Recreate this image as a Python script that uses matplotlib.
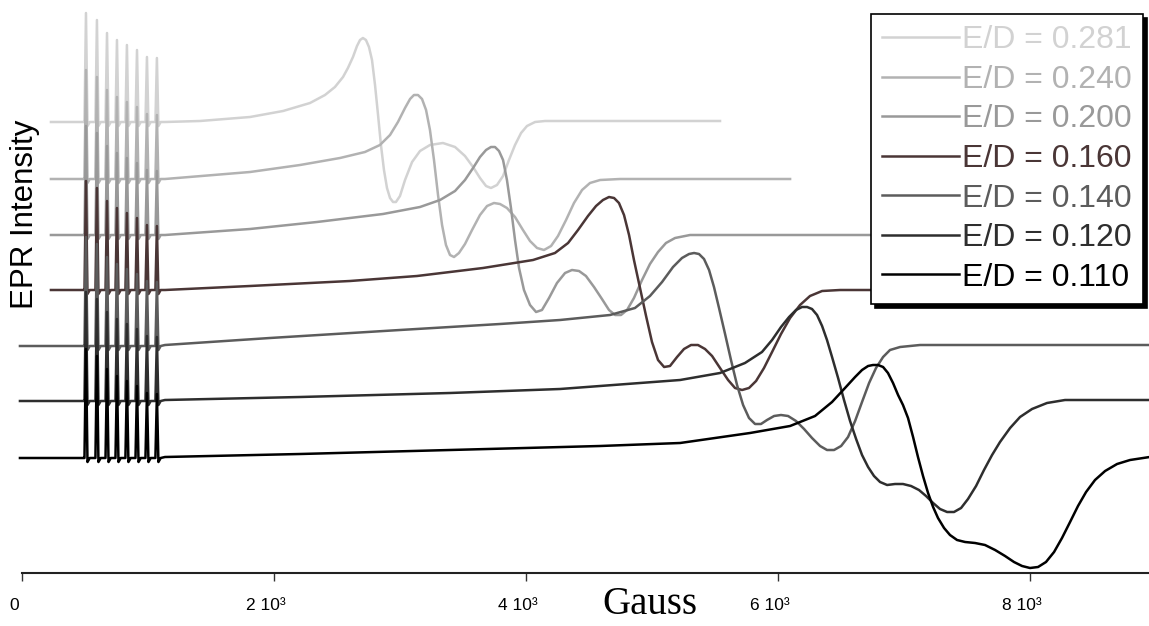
import matplotlib
matplotlib.use("Agg")
import matplotlib.pyplot as plt
import matplotlib.transforms as mtransforms

# ── data (field in Gauss, intensity in arbitrary units, stacked traces) ──
labels = ["E/D = 0.281", "E/D = 0.240", "E/D = 0.200", "E/D = 0.160",
          "E/D = 0.140", "E/D = 0.120", "E/D = 0.110"]
colors = ["#d2d2d2", "#b2b2b2", "#999999", "#4a3636",
          "#5c5c5c", "#2e2e2e", "#000000"]

baselines = [451, 394, 338, 283, 227, 172, 115]
start_x = [230, 230, 230, 230, -16, -16, -16]

# narrow low-field lines (same for every trace)
spike_x = [508, 595, 675, 754, 833, 913, 992, 1071]
spike_h = [109, 102, 89, 82, 77, 72, 65, 64]

x_281 = [1135, 1413, 1810, 2072, 2286, 2405, 2484, 2548, 2587, 2627, 2659, 2683,
         2706, 2730, 2754, 2778, 2802, 2826, 2849, 2873, 2897, 2921, 2945, 2968,
         3000, 3040, 3096, 3159, 3238, 3341, 3437, 3516, 3580, 3635, 3683, 3722,
         3770, 3818, 3865, 3913, 3961, 4008, 4072, 4151, 5540]
y_281 = [451, 452, 456, 462, 470, 478, 486, 496, 505, 516, 527, 533,
         535, 533, 526, 513, 488, 458, 428, 403, 385, 375, 371, 371,
         377, 393, 411, 422, 428, 430, 426, 417, 406, 395, 387, 385,
         388, 397, 413, 428, 440, 447, 451, 452, 452]

x_240 = [1135, 1810, 2207, 2524, 2722, 2841, 2921, 2984, 3040, 3080, 3111, 3143,
         3175, 3207, 3238, 3270, 3302, 3334, 3365, 3397, 3429, 3468, 3516, 3572,
         3635, 3691, 3746, 3794, 3849, 3913, 3976, 4032, 4088, 4143, 4199, 4254,
         4318, 4381, 4445, 4508, 4588, 4746, 6096]
y_240 = [394, 401, 408, 415, 421, 428, 438, 451, 465, 474, 478, 478,
         474, 463, 443, 413, 378, 348, 328, 318, 316, 320, 329, 343,
         358, 367, 370, 369, 365, 356, 343, 332, 325, 323, 327, 337,
         353, 370, 383, 390, 393, 394, 394]

x_200 = [1135, 1810, 2341, 2865, 3159, 3318, 3437, 3516, 3580, 3635, 3683, 3722,
         3754, 3786, 3818, 3849, 3881, 3913, 3945, 3984, 4032, 4080, 4127, 4183,
         4246, 4310, 4365, 4421, 4476, 4540, 4603, 4659, 4707, 4754, 4802, 4857,
         4921, 4984, 5048, 5111, 5183, 5302, 6969]
y_200 = [338, 344, 351, 359, 366, 373, 382, 393, 405, 416, 423, 426,
         426, 422, 413, 393, 365, 333, 305, 283, 268, 261, 263, 275,
         290, 300, 303, 302, 297, 286, 274, 263, 258, 258, 263, 275,
         293, 309, 321, 330, 335, 338, 338]

x_160 = [1135, 1810, 2603, 3135, 3659, 4056, 4230, 4334, 4413, 4492, 4556, 4611,
         4659, 4699, 4738, 4778, 4818, 4857, 4905, 4953, 5000, 5048, 5096, 5143,
         5199, 5254, 5310, 5365, 5421, 5477, 5540, 5604, 5659, 5715, 5770, 5826,
         5889, 5953, 6024, 6096, 6175, 6254, 6350, 6493, 6969]
y_160 = [283, 287, 292, 297, 305, 313, 320, 330, 343, 357, 367, 373,
         376, 375, 370, 358, 338, 313, 285, 257, 231, 213, 206, 207,
         216, 224, 228, 228, 224, 217, 205, 193, 185, 183, 185, 192,
         205, 221, 239, 255, 268, 277, 282, 283, 283]

x_140 = [1135, 1968, 3000, 3794, 4270, 4667, 4865, 4984, 5080, 5167, 5238, 5294,
         5334, 5373, 5413, 5453, 5492, 5532, 5580, 5627, 5675, 5723, 5770, 5818,
         5865, 5913, 5969, 6024, 6080, 6143, 6207, 6270, 6334, 6389, 6445, 6501,
         6556, 6612, 6667, 6723, 6778, 6834, 6889, 6969, 7127, 8950]
y_140 = [228, 235, 243, 249, 253, 258, 265, 277, 291, 306, 315, 319,
         320, 319, 314, 303, 286, 265, 239, 213, 188, 168, 155, 149,
         149, 153, 157, 158, 157, 152, 144, 135, 127, 123, 123, 127,
         136, 152, 171, 190, 205, 216, 223, 226, 228, 228]

x_120 = [1135, 2207, 3397, 4270, 5223, 5540, 5738, 5873, 5953, 6024, 6088, 6143,
         6191, 6231, 6270, 6310, 6350, 6389, 6429, 6477, 6524, 6572, 6620, 6667,
         6715, 6762, 6810, 6866, 6929, 6992, 7056, 7119, 7175, 7231, 7286, 7342,
         7397, 7453, 7508, 7572, 7635, 7699, 7762, 7842, 7921, 8016, 8135, 8278,
         8950]
y_120 = [173, 176, 180, 184, 193, 200, 210, 221, 233, 246, 256, 263,
         266, 266, 264, 258, 247, 233, 216, 195, 173, 152, 134, 118,
         106, 97, 91, 88, 89, 89, 87, 83, 77, 70, 64, 61,
         61, 65, 74, 87, 103, 118, 131, 145, 156, 164, 170, 173,
         173]

x_110 = [1135, 2207, 3397, 4588, 5223, 5778, 6096, 6294, 6429, 6532, 6612, 6667,
         6715, 6754, 6794, 6834, 6873, 6913, 6953, 6992, 7032, 7072, 7111, 7151,
         7191, 7231, 7270, 7318, 7365, 7421, 7485, 7564, 7643, 7723, 7802, 7873,
         7937, 8000, 8064, 8127, 8191, 8254, 8318, 8381, 8445, 8516, 8596, 8691,
         8794, 8950]
y_110 = [116, 119, 123, 127, 130, 140, 147, 157, 171, 185, 196, 203,
         207, 208, 208, 206, 200, 190, 178, 168, 155, 136, 116, 97,
         80, 66, 55, 45, 38, 33, 31, 30, 28, 23, 17, 11,
         7, 5, 6, 11, 21, 35, 51, 67, 81, 93, 102, 109,
         113, 116]

xs = [x_281, x_240, x_200, x_160, x_140, x_120, x_110]
ys = [y_281, y_240, y_200, y_160, y_140, y_120, y_110]

tick_pos = [0, 2000, 4000, 6000, 8000]
tick_lab = ["0", "2 10\u00b3", "4 10\u00b3", "6 10\u00b3", "8 10\u00b3"]

XMIN, XMAX = -160, 8950


def trace(x0, base, xm, ym):
    # flat start, hyperfine spikes, then the broad derivative line
    px, py = [x0, spike_x[0] - 20], [base, base]
    for sx, h in zip(spike_x, spike_h):
        px += [sx - 12, sx, sx + 12, sx + 30]
        py += [base, base + h, base - 4, base]
    return px + list(xm), py + list(ym)


fig = plt.figure(figsize=(11.49, 6.26), dpi=100)
W, H = 1149, 626
ax = fig.add_axes([1.8 / W, 53 / H, 1147.9 / W, 573 / H])

for x0, b, xm, ym, c, lab in zip(start_x, baselines, xs, ys, colors, labels):
    px, py = trace(x0, b, xm, ym)
    ax.plot(px, py, color=c, lw=1.8, label=lab, solid_joinstyle="round")

ax.set_xlim(XMIN, XMAX)
ax.set_ylim(0, 573)
for s in ["left", "top", "right"]:
    ax.spines[s].set_visible(False)
ax.spines["bottom"].set_bounds(0, XMAX)
ax.spines["bottom"].set_linewidth(1.5)
ax.spines["bottom"].set_color("#222222")
ax.set_yticks([])
ax.set_xticks(tick_pos)
ax.set_xticklabels(tick_lab, family=["Liberation Sans Narrow", "Liberation Sans"],
                   fontsize=12.5)
ax.tick_params(axis="x", direction="out", length=6, width=1.0, pad=12, color="#333333")
shift = mtransforms.ScaledTranslation(-8 / 100, 0, fig.dpi_scale_trans)
for lbl in ax.get_xticklabels():
    lbl.set_transform(lbl.get_transform() + shift)

fig.text(650 / W, 1 - 604 / H, "Gauss", family="Liberation Serif", fontsize=28,
         ha="center", va="center")
fig.text(25 / W, 1 - 214 / H, "EPR Intensity", family="Liberation Sans",
         fontsize=22.5, rotation=90, ha="center", va="center")

leg = ax.legend(loc="upper right", bbox_to_anchor=(1143 / W, 1 - 14 / H),
                bbox_transform=fig.transFigure, borderaxespad=0,
                prop={"family": "Liberation Sans", "size": 23},
                labelcolor="linecolor", fancybox=False,
                shadow={"ox": 3, "oy": -3, "color": "black", "alpha": 1},
                handlelength=2.4, handletextpad=0.1, labelspacing=0.3,
                borderpad=0.35, framealpha=1)
leg.get_frame().set_edgecolor("black")
leg.get_frame().set_linewidth(1.2)
for ln in leg.get_lines():
    ln.set_linewidth(1.8)

fig.savefig("out.png", dpi=100)
